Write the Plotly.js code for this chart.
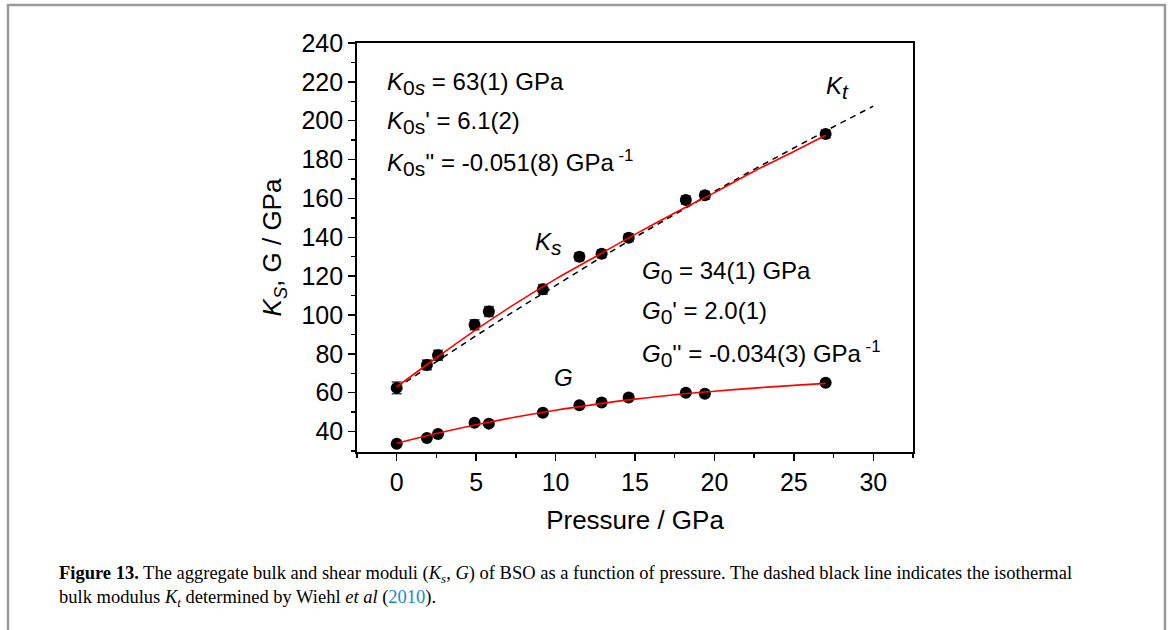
<!DOCTYPE html>
<html>
<head>
<meta charset="utf-8">
<script src="https://cdn.plot.ly/plotly-3.0.1.min.js"></script>
<style>html,body{margin:0;padding:0;background:#fff;}#chart{width:1171px;height:630px;}</style>
</head>
<body>
<div id="chart"></div>
<script>
// Measured data
const pressure = [0, 1.9, 2.6, 4.9, 5.8, 9.2, 11.5, 12.9, 14.6, 18.2, 19.4, 27.0];
const ksValues = [62.5, 74.3, 79.3, 95.0, 101.8, 113.2, 130.0, 131.5, 139.8, 159.2, 161.6, 193.2];
const ksErrors = [3, 2.5, 2.5, 2.5, 2.5, 2.5, 2, 2, 2, 2, 2, 2];
const gValues = [33.8, 36.7, 38.8, 44.5, 44.1, 49.7, 53.6, 55.0, 57.5, 60.0, 59.5, 65.2];

// Fitted curves
const fitP = [0, 2.5, 5, 7.5, 10, 12.5, 15, 17.5, 20, 22.5, 25, 27];
const ksFit = [63, 78, 92.5, 106, 118.5, 130, 141.5, 152.5, 163, 174, 184.2, 192.5];
const gFit = [34, 39, 43.5, 47.5, 51, 54, 56.7, 59, 60.8, 62.4, 63.8, 64.8];

// Isothermal Kt (Wiehl et al 2010)
const ktP = [0, 2.5, 5, 7.5, 10, 12.5, 15, 17.5, 20, 22.5, 25, 27.5, 30];
const ktValues = [62.5, 76.1, 89.4, 102.5, 115.3, 127.8, 140, 151.9, 163.6, 175, 186.1, 196.9, 207.5];

const xTickVals = [0, 5, 10, 15, 20, 25, 30];
const yTickVals = [40, 60, 80, 100, 120, 140, 160, 180, 200, 220, 240];

const FONT = 'Liberation Sans, Arial, Helvetica, sans-serif';

const traces = [
  {x: ktP, y: ktValues, mode: 'lines', line: {color: '#000', width: 1.5, dash: '6px,5px'}, hoverinfo: 'skip'},
  {x: pressure, y: ksValues, mode: 'markers', marker: {color: '#000', size: 12},
   error_y: {type: 'data', array: ksErrors, visible: true, color: '#444', thickness: 1.6, width: 5}},
  {x: pressure, y: gValues, mode: 'markers', marker: {color: '#000', size: 12}},
  {x: fitP, y: ksFit, mode: 'lines', line: {color: '#ff0000', width: 1.6, shape: 'spline', smoothing: 1}},
  {x: fitP, y: gFit, mode: 'lines', line: {color: '#ff0000', width: 1.6, shape: 'spline', smoothing: 1}}
];

const annFont = {family: FONT, size: 24, color: '#000'};
function ann(x, y, text, extra) {
  return Object.assign({x: x, y: y, xref: 'x', yref: 'y', text: text, showarrow: false,
    xanchor: 'left', yanchor: 'middle', font: annFont}, extra || {});
}
function sb(t) { return '<sub><span style="font-size:21px">' + t + '</span></sub>'; }

const annotations = [
  ann(-0.75, 219, '<i>K</i>' + sb('0<i>s</i>') + ' = 63(1) GPa'),
  ann(-0.75, 199, "<i>K</i>" + sb('0s') + "' = 6.1(2)"),
  ann(-0.75, 178, "<i>K</i>" + sb('0s') + "'' = -0.051(8) GPa<sup> -1</sup>"),
  ann(26.9, 217, '<i>K</i>' + sb('<i>t</i>')),
  ann(8.6, 137, '<i>K</i>' + sb('<i>s</i>')),
  ann(15.3, 122, '<i>G</i>' + sb('0') + ' = 34(1) GPa'),
  ann(15.3, 101.5, "<i>G</i>" + sb('0') + "' = 2.0(1)"),
  ann(15.3, 80, "<i>G</i>" + sb('0') + "'' = -0.034(3) GPa<sup> -1</sup>"),
  ann(9.8, 68, '<i>G</i>'),
  {x: -0.5396, y: -0.267, xref: 'paper', yref: 'paper', xanchor: 'left', yanchor: 'top', align: 'left',
   showarrow: false,
   text: "<b>Figure 13.</b> The aggregate bulk and shear moduli (<i>K<sub>s</sub></i>, <i>G</i>) of BSO as a function of pressure. The dashed black line indicates the isothermal<br>bulk modulus <i>K<sub>t</sub></i> determined by Wiehl <i>et al</i> (<span style='color:#1a8ac6'>2010</span>).",
   font: {family: 'Liberation Serif, Times New Roman, serif', size: 18.5, color: '#000'}}
];

const layout = {
  width: 1171, height: 630,
  margin: {l: 357, r: 258, t: 43, b: 178, pad: 0},
  paper_bgcolor: '#fff', plot_bgcolor: '#fff',
  showlegend: false,
  font: {family: FONT, color: '#000'},
  xaxis: {
    range: [-2.5, 32.5], tickvals: xTickVals, ticktext: xTickVals.map(String),
    ticks: 'outside', ticklen: 7, tickwidth: 1.5, tickcolor: '#000',
    showline: true, linecolor: '#000', linewidth: 1.8, mirror: true,
    showgrid: false, zeroline: false,
    minor: {dtick: 2.5, tick0: 0, ticks: 'outside', ticklen: 4, tickwidth: 1.5, tickcolor: '#000', showgrid: false},
    tickfont: {family: FONT, size: 25, color: '#000'},
    title: {text: 'Pressure / GPa', font: {family: FONT, size: 26, color: '#000'}, standoff: 16},
    automargin: false
  },
  yaxis: {
    range: [29.5, 240], tickvals: yTickVals, ticktext: yTickVals.map(String),
    ticks: 'outside', ticklen: 7, tickwidth: 1.5, tickcolor: '#000',
    showline: true, linecolor: '#000', linewidth: 1.8, mirror: true,
    showgrid: false, zeroline: false,
    minor: {dtick: 10, tick0: 0, ticks: 'outside', ticklen: 4, tickwidth: 1.5, tickcolor: '#000', showgrid: false},
    tickfont: {family: FONT, size: 25, color: '#000'},
    title: {text: '<i>K<sub>S</sub></i>, G / GPa', font: {family: FONT, size: 26, color: '#000'}, standoff: 12},
    automargin: false
  },
  annotations: annotations,
  shapes: [
    {type: 'rect', xref: 'paper', yref: 'paper', x0: -0.6277, x1: 1.4532, y0: -0.46, y1: 1.0929,
     line: {color: '#9a9a9a', width: 2.5}, fillcolor: 'rgba(0,0,0,0)', layer: 'below'}
  ]
};

Plotly.newPlot('chart', traces, layout, {displayModeBar: false, staticPlot: true});
</script>
</body>
</html>
